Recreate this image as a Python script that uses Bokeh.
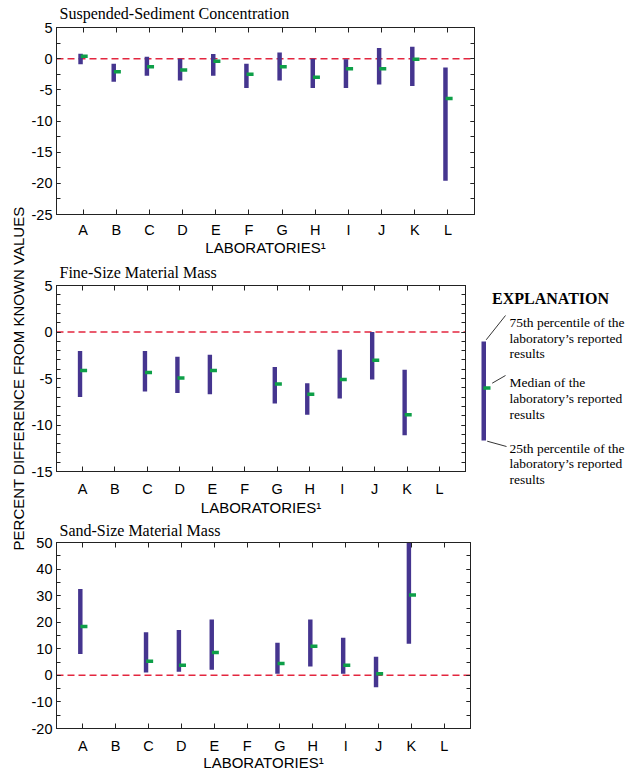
import math
from bokeh.plotting import figure
from bokeh.models import (Range1d, ColumnDataSource, Span, LinearAxis, FixedTicker,
                          SingleIntervalTicker, Title, CustomLabelingPolicy,
                          PrintfTickFormatter)
from bokeh.layouts import row, column
from bokeh.embed import file_html
from bokeh.resources import INLINE
from bokeh.core.properties import value

# ---------------- data ----------------
categories = ["A", "B", "C", "D", "E", "F", "G", "H", "I", "J", "K", "L"]

ssc_p25 = [-0.9, -3.7, -2.75, -3.5, -2.75, -4.7, -3.5, -4.7, -4.7, -4.15, -4.4, -19.6]
ssc_med = [0.4, -2.1, -1.3, -1.8, -0.4, -2.5, -1.3, -3.0, -1.6, -1.6, -0.1, -6.4]
ssc_p75 = [0.8, -0.8, 0.3, 0.0, 0.75, -0.8, 1.0, 0.0, -0.1, 1.7, 1.9, -1.4]

fine_p25 = [-7.0, None, -6.4, -6.55, -6.7, None, -7.7, -8.9, -7.15, -5.1, -11.1, None]
fine_med = [-4.15, None, -4.35, -4.95, -4.15, None, -5.6, -6.7, -5.1, -3.05, -8.9, None]
fine_p75 = [-2.05, None, -2.05, -2.65, -2.45, None, -3.75, -5.5, -1.9, 0.0, -4.05, None]

sand_p25 = [8.0, None, 1.1, 1.4, 2.1, None, 0.6, 3.3, 0.6, -4.5, 11.9, None]
sand_med = [18.4, None, 5.3, 3.8, 8.6, None, 4.5, 11.0, 3.8, 0.6, 30.2, None]
sand_p75 = [32.5, None, 16.2, 17.1, 21.0, None, 12.3, 21.0, 14.2, 7.0, 51.0, None]

titles = ["Suspended-Sediment Concentration", "Fine-Size Material Mass", "Sand-Size Material Mass"]
x_label = "LABORATORIES\u00b9"
y_label = "PERCENT DIFFERENCE FROM KNOWN VALUES"
explanation_title = "EXPLANATION"
explanation_lines = [
    ["75th percentile of the", "laboratory\u2019s reported", "results"],
    ["Median of the", "laboratory\u2019s reported", "results"],
    ["25th percentile of the", "laboratory\u2019s reported", "results"],
]

# ---------------- style ----------------
SANS = "Liberation Sans"
SERIF = "Liberation Serif"
BAR = "#45358F"
MED = "#0E9F48"
ZERO = "#E3263F"
INK = "#222222"

HIDE_ALL = "for (const i of indices) { indices.unset(i) }\nreturn indices"


def no_frame_align(fig):
    if "frame_align" in type(fig).properties():
        fig.frame_align = False


def style_axis(ax, labels, tick_len, minor):
    ax.axis_line_color = INK
    ax.axis_line_width = 1
    ax.major_tick_line_color = INK
    ax.major_tick_in = tick_len
    ax.major_tick_out = 0
    if minor:
        ax.minor_tick_line_color = INK
        ax.minor_tick_in = tick_len
        ax.minor_tick_out = 0
    else:
        ax.minor_tick_line_color = None
    if labels:
        ax.major_label_text_font = SANS
        ax.major_label_text_font_size = "14.5px"
        ax.major_label_text_color = "black"
    else:
        ax.major_label_text_font = SANS
        ax.major_label_text_font_size = "1px"
        ax.major_label_standoff = 0
        ax.major_label_policy = CustomLabelingPolicy(code=HIDE_ALL)


def panel(title, p25, med, p75, y0, y1, interval, nminor, width, height,
          b_top, b_bottom, b_right, title_standoff, tick_standoff, label_standoff):
    pos = list(range(1, len(categories) + 1))
    p = figure(width=width, height=height, x_range=Range1d(0.2, 12.8),
               y_range=Range1d(y0, y1), output_backend="svg", toolbar_location=None,
               x_axis_type=None, y_axis_type=None,
               min_border_left=28, min_border_right=b_right,
               min_border_top=b_top, min_border_bottom=b_bottom)
    p.title = Title(text=title, text_font=SERIF, text_font_size="16px",
                    text_font_style="normal", text_color="black", align="left",
                    offset=3, standoff=title_standoff)
    p.outline_line_color = INK
    p.outline_line_width = 1
    p.background_fill_color = "white"

    # y axes
    left = LinearAxis(ticker=SingleIntervalTicker(interval=interval, num_minor_ticks=nminor),
                      formatter=PrintfTickFormatter(format="%d"))
    style_axis(left, True, 4, True)
    left.major_label_standoff = 4
    p.add_layout(left, "left")
    right = LinearAxis(ticker=SingleIntervalTicker(interval=interval, num_minor_ticks=nminor))
    style_axis(right, False, 4, True)
    p.add_layout(right, "right")

    # x axes
    bottom = LinearAxis(ticker=FixedTicker(ticks=pos, minor_ticks=[]))
    style_axis(bottom, True, 5, False)
    bottom.major_label_overrides = {k: c for k, c in zip(pos, categories)}
    bottom.major_label_standoff = tick_standoff
    bottom.axis_label = x_label
    bottom.axis_label_text_font = SANS
    bottom.axis_label_text_font_size = "15px"
    bottom.axis_label_text_font_style = "normal"
    bottom.axis_label_text_color = "black"
    bottom.axis_label_standoff = label_standoff
    p.add_layout(bottom, "below")
    top = LinearAxis(ticker=FixedTicker(ticks=pos, minor_ticks=[]))
    style_axis(top, False, 5, False)
    p.add_layout(top, "above")

    # zero reference line
    p.add_layout(Span(location=0, dimension="width", line_color=ZERO,
                      line_dash="7 4", line_width=1.5, level="underlay"))

    idx = [i for i in range(len(categories)) if p25[i] is not None]
    src = ColumnDataSource(dict(
        xb=[pos[i] - 0.075 for i in idx],
        xm=[pos[i] + 0.035 for i in idx],
        lo=[p25[i] for i in idx],
        hi=[p75[i] for i in idx],
        md=[med[i] for i in idx],
    ))
    p.vbar(x="xb", width=0.135, top="hi", bottom="lo", source=src,
           fill_color=BAR, line_color=None)
    p.rect(x="xm", y="md", width=7, height=3.5, width_units="screen",
           height_units="screen", source=src, fill_color=MED, line_color=None)
    return p


# page layout (page has no margin: content box 0..626 x 0..773)
top_p = panel(titles[0], ssc_p25, ssc_med, ssc_p75, -25, 5, 5, 2,
              451, 259, 27, 45, 3, 3, 7, -2)
mid_p = panel(titles[1], fine_p25, fine_med, fine_p75, -15, 5, 5, 5,
              442, 260, 26, 48, 3, 2, 9, -1)
bot_p = panel(titles[2], sand_p25, sand_med, sand_p75, -20, 50, 10, 2,
              447, 254, 21, 45, 3, 0, 9, -3)

# ---------------- shared y label ----------------
lab = figure(width=28, height=773, x_range=Range1d(0, 28), y_range=Range1d(773, 0),
             output_backend="svg", toolbar_location=None, x_axis_type=None,
             y_axis_type=None, min_border=0, outline_line_color=None)
no_frame_align(lab)
lab.text(x=[18], y=[378], text=[y_label], angle=math.pi / 2,
         text_font=value(SANS), text_font_size="15px", text_color="black",
         text_align="center", text_baseline="middle")

# ---------------- explanation (page coordinates) ----------------
ex = figure(width=156, height=260, x_range=Range1d(470, 626), y_range=Range1d(519, 259),
            output_backend="svg", toolbar_location=None, x_axis_type=None,
            y_axis_type=None, min_border=0, outline_line_color=None)
no_frame_align(ex)
ex.text(x=[491.5], y=[298.3], text=[explanation_title], text_font=value(SERIF),
        text_font_size="16px", text_font_style="bold", text_color="black",
        text_align="left", text_baseline="alphabetic")
ex.quad(left=[481], right=[485.5], top=[341], bottom=[440], fill_color=BAR, line_color=None)
ex.quad(left=[482.8], right=[490], top=[385.7], bottom=[389.3], fill_color=MED, line_color=None)
ex.segment(x0=[485.7, 491.7, 486.7], y0=[339.3, 382.7, 440.7], x1=[505, 505, 506],
           y1=[315, 375, 446], line_color="black", line_width=0.8)
base_y = [321.7, 382, 447.5]
tx, ty, tt = [], [], []
for by, lines in zip(base_y, explanation_lines):
    for k, t in enumerate(lines):
        tx.append(509)
        ty.append(by + 15.8 * k)
        tt.append(t)
ex.text(x=tx, y=ty, text=tt, text_font=value(SERIF), text_font_size="13.5px",
        text_color="black", text_align="left", text_baseline="alphabetic")

layout = row(lab, column(top_p, row(mid_p, ex), bot_p))
open("out.html", "w").write(file_html(layout, INLINE))
